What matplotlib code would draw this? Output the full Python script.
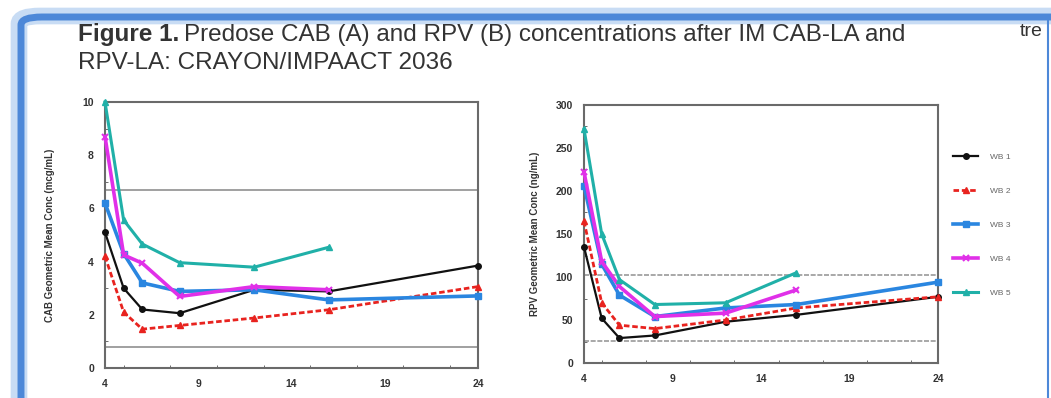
import numpy as np
import matplotlib
matplotlib.use('Agg')
import matplotlib.pyplot as plt
from matplotlib.patches import FancyBboxPatch
from matplotlib.ticker import MultipleLocator

# weeks since first dose
weeks = [4, 5, 6, 8, 12, 16, 24]
weeks_short = [4, 5, 6, 8, 12, 16]

# CAB geometric mean conc (mcg/mL)
cab_wb1 = [5.1, 3.0, 2.2, 2.06, 2.94, 2.88, 3.85]
cab_wb2 = [4.2, 2.1, 1.46, 1.6, 1.88, 2.19, 3.06]
cab_wb3 = [6.2, 4.3, 3.2, 2.88, 2.94, 2.56, 2.71]
cab_wb4 = [8.7, 4.25, 3.94, 2.69, 3.06, 2.94]
cab_wb5 = [10.0, 5.56, 4.66, 3.96, 3.79, 4.54]
cab_refs = [6.7, 0.78]

# RPV geometric mean conc (ng/mL)
rpv_wb1 = [135, 52, 29, 32, 48, 56, 77]
rpv_wb2 = [165, 70, 44, 40, 50, 64, 77]
rpv_wb3 = [206, 115, 79, 54, 64, 68, 94]
rpv_wb4 = [222, 118, 89, 54, 58, 85]
rpv_wb5 = [272, 150, 97, 68, 70, 105]
rpv_refs = [102, 26]

labels = ['WB 1', 'WB 2', 'WB 3', 'WB 4', 'WB 5']
colors = ['#111111', '#e8231f', '#2a86e0', '#e030e8', '#20b0a8']
styles = [dict(ls='-', marker='o', lw=1.6, ms=4),
          dict(ls=(0, (2, 1)), marker='^', lw=2.0, ms=4),
          dict(ls='-', marker='s', lw=2.6, ms=4),
          dict(ls='-', marker='x', lw=2.6, ms=4, mew=1.5),
          dict(ls='-', marker='^', lw=2.2, ms=4)]

plt.rcParams['font.family'] = ['Liberation Sans', 'DejaVu Sans']

W, H = 1051, 398
fig = plt.figure(figsize=(W / 100, H / 100), dpi=100)

# slide frame
glow = FancyBboxPatch((19 / W, -0.2), 1.2, (H - 16) / H + 0.2,
                      boxstyle='round,pad=0,rounding_size=0.02',
                      transform=fig.transFigure, facecolor='none',
                      edgecolor='#c8dcf4', lw=12, zorder=-2)
frame = FancyBboxPatch((21 / W, -0.2), 1.2, (H - 17) / H + 0.2,
                       boxstyle='round,pad=0,rounding_size=0.02',
                       transform=fig.transFigure, facecolor='none',
                       edgecolor='#4d88d8', lw=5, zorder=-1)
fig.patches.extend([glow, frame])
fig.add_artist(plt.Line2D([1048 / W, 1048 / W], [0, 1 - 18 / H],
                          transform=fig.transFigure, color='#4d88d8', lw=1.5))

# title: bold lead-in then normal text
t1 = fig.text(78 / W, 1 - 35 / H, 'Figure 1.', fontsize=17.5, fontweight='bold',
              color='#333333', va='center')
fig.canvas.draw()
bb = t1.get_window_extent()
fig.text(bb.x1 / W + 5 / W, 1 - 35 / H,
         'Predose CAB (A) and RPV (B) concentrations after IM CAB-LA and',
         fontsize=17.5, color='#333333', va='center')
fig.text(78 / W, 1 - 63 / H, 'RPV-LA: CRAYON/IMPAACT 2036',
         fontsize=17.5, color='#333333', va='center')
fig.text(1020 / W, 1 - 32 / H, 'tre', fontsize=14, color='#333333', va='center')


def style_axes(ax, ymax, ystep, yminor):
    ax.set_xlim(4, 24)
    ax.set_ylim(0, ymax)
    ax.set_xticks([4, 9, 14, 19, 24])
    ax.xaxis.set_minor_locator(MultipleLocator(2.5))
    ax.yaxis.set_major_locator(MultipleLocator(ystep))
    ax.yaxis.set_minor_locator(MultipleLocator(yminor))
    ax.tick_params(which='both', direction='in', length=0, labelsize=7.5,
                   labelcolor='#333333', pad=8)
    ax.tick_params(which='minor', length=2.5, color='#555555')
    for lab in ax.get_xticklabels() + ax.get_yticklabels():
        lab.set_fontweight('bold')
    for s in ax.spines.values():
        s.set_color('#6a6a6a')
        s.set_linewidth(1.5)


ax1 = fig.add_axes([105 / W, 1 - 368 / H, 373 / W, 266 / H])
for r in cab_refs:
    ax1.axhline(r, color='#999999', lw=1.3, zorder=1)
cab = [cab_wb1, cab_wb2, cab_wb3, cab_wb4, cab_wb5]
for i, vals in enumerate(cab):
    x = weeks if len(vals) == len(weeks) else weeks_short
    ax1.plot(x, vals, color=colors[i], clip_on=False, zorder=3, **styles[i])
style_axes(ax1, 10, 2, 1)
ax1.set_ylabel('CAB Geometric Mean Conc (mcg/mL)', fontsize=7, fontweight='bold',
               color='#333333', labelpad=20)

ax2 = fig.add_axes([584 / W, 1 - 363 / H, 354 / W, 258 / H])
for r in rpv_refs:
    ax2.axhline(r, color='#999999', lw=1.2, ls=(0, (3, 1)), zorder=1)
rpv = [rpv_wb1, rpv_wb2, rpv_wb3, rpv_wb4, rpv_wb5]
for i, vals in enumerate(rpv):
    x = weeks if len(vals) == len(weeks) else weeks_short
    ax2.plot(x, vals, color=colors[i], clip_on=False, zorder=3, label=labels[i], **styles[i])
style_axes(ax2, 300, 50, 25)
ax2.set_ylabel('RPV Geometric Mean Conc (ng/mL)', fontsize=7, fontweight='bold',
               color='#333333', labelpad=11)

leg = ax2.legend(loc='center left', bbox_to_anchor=(1.0, 0.535), frameon=False,
                 fontsize=6, labelcolor='#666666', handlelength=3.0,
                 labelspacing=3.15, borderaxespad=1.4, handletextpad=1.4)

fig.savefig('out.png', dpi=100)
